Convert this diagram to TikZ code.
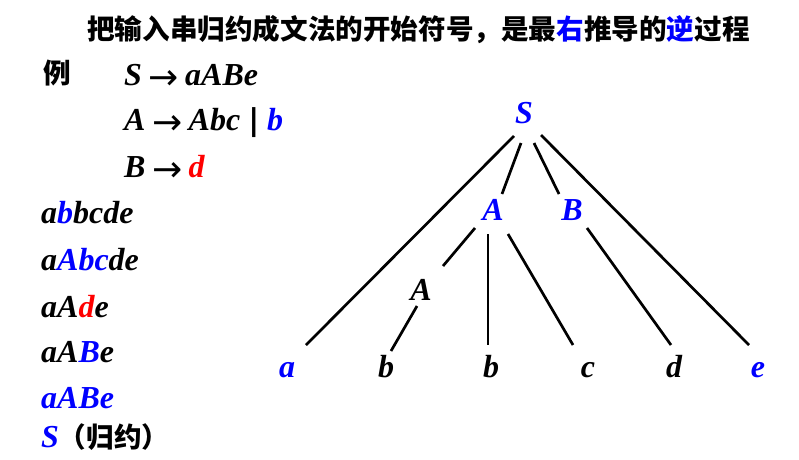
\documentclass[tikz,border=0pt]{standalone}
\usepackage{fontspec}
\setmainfont{Liberation Serif}
\newfontfamily\cjk{Noto Sans CJK SC}
\newfontfamily\dvs{DejaVu Sans}
\usetikzlibrary{calc}
\definecolor{myblue}{RGB}{0,0,255}
\definecolor{myred}{RGB}{255,0,0}
\newcommand{\myarr}{\hspace{7pt}\raisebox{-4pt}{\dvs\mdseries\upshape\fontsize{36}{36}\selectfont→}\hspace{6pt}}
\newcommand{\mybar}{\hspace{8pt}{\dvs\bfseries\upshape\fontsize{30}{30}\selectfont|}\hspace{8pt}}
\begin{document}
\begin{tikzpicture}[x=1pt,y=-1pt,
  lat/.style={inner sep=0pt,anchor=base west,font=\fontsize{32}{32}\selectfont\bfseries\itshape},
  tre/.style={inner sep=0pt,anchor=base,font=\fontsize{32}{32}\selectfont\bfseries\itshape},
  cj/.style={inner sep=0pt,anchor=west,font=\fontsize{27.6}{28}\selectfont\cjk\bfseries},
  edge/.style={line width=2.7pt}]
\useasboundingbox (0,0) rectangle (799,459);
% title
\node[cj] (title) at (87,30) {把输入串归约成文法的开始符号，是最{\color{myblue}右}推导的{\color{myblue}逆}过程};
\node[cj] (li) at (43,73) {例};
% productions
\node[lat] (p1) at (124,85) {S\myarr aABe};
\node[lat] (p2) at (124,130) {A\myarr Abc\mybar{\color{myblue}b}};
\node[lat] (p3) at (124,177) {B\myarr{\color{myred}d}};
% reduction steps
\node[lat] (r1) at (41,223) {a{\color{myblue}b}bcde};
\node[lat] (r2) at (41,270) {a{\color{myblue}Abc}de};
\node[lat] (r3) at (41,317) {aA{\color{myred}d}e};
\node[lat] (r4) at (41,362) {aA{\color{myblue}B}e};
\node[lat,text=myblue] (r5) at (41,408) {aABe};
\node[lat] (r6) at (41,447) {{\color{myblue}S}{\cjk\bfseries\fontsize{27.6}{28}\selectfont（归约）}};
% tree
\node[tre,text=myblue] (S) at (524,123) {S};
\node[tre,text=myblue] (A) at (493,220) {A};
\node[tre,text=myblue] (B) at (572,220) {B};
\node[tre] (A2) at (421,300) {A};
\node[tre,text=myblue] (a) at (287,377) {a};
\node[tre] (b1) at (386,377) {b};
\node[tre] (b2) at (491,377) {b};
\node[tre] (c) at (588,377) {c};
\node[tre] (d) at (674,377) {d};
\node[tre,text=myblue] (e) at (758,377) {e};
\draw[edge] ($(S.base)+(-10,13)$) -- ($(a.base)+(19,-32)$);
\draw[edge] ($(S.base)+(-3,20)$) -- ($(A.base)+(9,-26)$);
\draw[edge] ($(S.base)+(10,20)$) -- ($(B.base)+(-13,-26)$);
\draw[edge] ($(S.base)+(17,12)$) -- ($(e.base)+(-9,-32)$);
\draw[edge] ($(A.base)+(-18,8)$) -- ($(A2.base)+(22,-34)$);
\draw[edge] ($(A.base)+(-5,14)$) -- ($(b2.base)+(-3,-32)$);
\draw[edge] ($(A.base)+(15,14)$) -- ($(c.base)+(-15,-32)$);
\draw[edge] ($(B.base)+(15,8)$) -- ($(d.base)+(-3,-32)$);
\draw[edge] ($(A2.base)+(-4,6)$) -- ($(b1.base)+(5,-26)$);
\end{tikzpicture}
\end{document}
